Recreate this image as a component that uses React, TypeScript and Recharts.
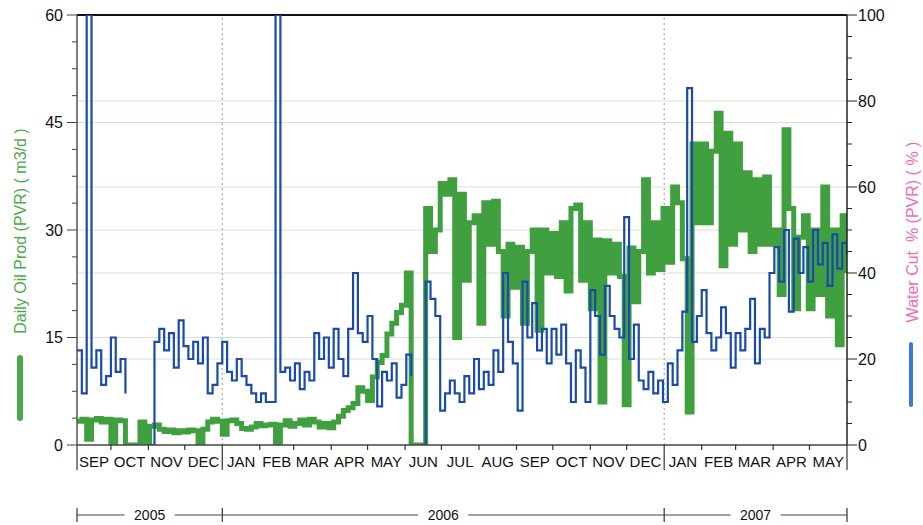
import React from 'react';
import { ComposedChart, Line, XAxis, YAxis, ReferenceLine } from 'recharts';

// day index counted from 1 Sep 2005, one reading every 4 days
const days = [
  2, 6, 10, 14, 18, 22, 26, 30, 34, 38, 42, 46, 50, 54, 58, 62, 66, 70, 74, 78,
  82, 86, 90, 94, 98, 102, 106, 110, 114, 118, 122, 126, 130, 134, 138, 142, 146, 150, 154, 158,
  162, 166, 170, 174, 178, 182, 186, 190, 194, 198, 202, 206, 210, 214, 218, 222, 226, 230, 234, 238,
  242, 246, 250, 254, 258, 262, 266, 270, 274, 278, 282, 286, 290, 294, 298, 302, 306, 310, 314, 318,
  322, 326, 330, 334, 338, 342, 346, 350, 354, 358, 362, 366, 370, 374, 378, 382, 386, 390, 394, 398,
  402, 406, 410, 414, 418, 422, 426, 430, 434, 438, 442, 446, 450, 454, 458, 462, 466, 470, 474, 478,
  482, 486, 490, 494, 498, 502, 506, 510, 514, 518, 522, 526, 530, 534, 538, 542, 546, 550, 554, 558,
  562, 566, 570, 574, 578, 582, 586, 590, 594, 598, 602, 606, 610, 614, 618, 622, 626, 630, 634, 638,
];

// Daily Oil Prod (PVR) m3/d
const oilProd = [
  3.3, 3.6, 0.8, 3.5, 3.7, 3.2, 3.6, 0.2, 3.5, 3.4,
  0, 0, 0, 3.2, 0.3, 2.6, 2.8, 2.2, 1.9, 2.1,
  1.7, 2.0, 1.8, 2.1, 2.0, 0.2, 2.2, 3.2, 3.6, 3.3,
  1.5, 3.4, 3.5, 3.0, 2.3, 2.2, 2.5, 3.0, 2.7, 2.8,
  2.9, 0.2, 2.8, 3.4, 2.6, 3.0, 3.5, 2.8, 3.6, 3.2,
  2.5, 3.0, 2.4, 3.2, 4.0, 4.8, 5.2, 5.8, 8.0, 7.5,
  6.2, 9.5, 11.5, 12.5, 15.5, 17, 18.5, 19.5, 24, 0,
  0, 0, 33, 27, 30, 36.5, 35, 37, 15, 35,
  23, 31, 32, 17, 33.8, 28, 34, 27, 18, 28,
  22, 27.6, 17, 27, 30, 16, 30, 24, 29.5, 23.5,
  31, 21.5, 33, 33.5, 23, 31, 19, 28.6, 6, 28.5,
  24, 28, 23.5, 5.6, 27.5, 20, 27, 37, 24, 31,
  24.5, 33, 25.5, 36, 33.8, 26, 4.6, 42, 31, 42,
  31, 41, 46.3, 25, 43.5, 28, 42, 30, 38, 27,
  37, 28, 37.4, 28, 30, 21, 44, 33, 19, 29,
  32, 19, 30, 21, 36, 18, 30, 14, 32, 24,
];

// Water Cut % (PVR)
const waterCut = [
  22, 12, 100, 18, 22, 14, 16, 25, 17, 20,
  12, null, null, null, null, 0, 24, 27, 22, 26,
  18, 29, 23, 20, 24, 19, 25, 12, 14, 19,
  24, 17, 15, 20, 16, 14, 12, 10, 12, 10,
  10, 100, 17, 18, 15, 19, 13, 17, 15, 26,
  20, 25, 18, 27, 20, 16, 27, 40, 26, 24,
  30, 20, 9, 17, 15, 19, 11, 14, 21, 16,
  null, 0, 38, 34, 30, 8, 12, 15, 12, 10,
  16, 12, 20, 13, 17, 14, 22, 17, 40, 24,
  19, 8, 38, 25, 33, 22, 27, 19, 27, 21,
  28, 19, 10, 22, 18, 10, 36, 30, 21, 37,
  30, 27, 25, 53, 20, 28, 15, 13, 17, 12,
  15, 10, 19, 14, 22, 31, 83, 24, 30, 36,
  26, 22, 25, 32, 26, 18, 26, 22, 27, 34,
  19, 27, 25, 40, 46, 38, 50, 31, 48, 40,
  46, 38, 50, 42, 47, 37, 49, 41, 47, 44,
];

const monthLabels = [
  'SEP', 'OCT', 'NOV', 'DEC', 'JAN', 'FEB', 'MAR', 'APR', 'MAY', 'JUN', 'JUL',
  'AUG', 'SEP', 'OCT', 'NOV', 'DEC', 'JAN', 'FEB', 'MAR', 'APR', 'MAY',
];
const monthStarts = [2, 30, 61, 91, 122, 153, 181, 212, 242, 273, 303, 334, 365, 395, 426, 456, 487, 518, 546, 577, 607, 638];
const yearLabels = ['2005', '2006', '2007'];
const yearStarts = [2, 122, 487, 638];

const oilTicks = [0, 3.75, 7.5, 11.25, 15, 18.75, 22.5, 26.25, 30, 33.75, 37.5, 41.25, 45, 48.75, 52.5, 56.25, 60];
const waterTicks = [0, 5, 10, 15, 20, 25, 30, 35, 40, 45, 50, 55, 60, 65, 70, 75, 80, 85, 90, 95, 100];

const rows = days.map((day, i) => ({ day, oil: oilProd[i], water: waterCut[i] }));

const monthMids = monthLabels.map((_, i) => (monthStarts[i] + monthStarts[i + 1]) / 2);
const monthTicks = [...monthStarts, ...monthMids].sort((a, b) => a - b);
const yearMids = yearLabels.map((_, i) => (yearStarts[i] + yearStarts[i + 1]) / 2);
const yearTicks = [...yearStarts, ...yearMids].sort((a, b) => a - b);

const FONT = '"Liberation Sans", Arial, sans-serif';
const GREEN = '#40a040';
const BLUE = '#1a4aaa';
const GRID = '#d3e3d3';

const LeftTick = (props: any) => {
  const { x, y, payload } = props;
  const major = payload.value % 15 === 0;
  return (
    <g>
      <line x1={x - (major ? 10 : 5)} x2={x} y1={y} y2={y} stroke="#444" />
      {major && (
        <text x={x - 14} y={y} dy="0.35em" textAnchor="end" fontSize={16} fontFamily={FONT} fill="#111">
          {payload.value}
        </text>
      )}
    </g>
  );
};

const RightTick = (props: any) => {
  const { x, y, payload } = props;
  const major = payload.value % 20 === 0;
  return (
    <g>
      <line x1={x} x2={x + (major ? 10 : 5)} y1={y} y2={y} stroke="#222" />
      {major && (
        <text x={x + 11} y={y} dy="0.35em" textAnchor="start" fontSize={16} fontFamily={FONT} fill="#111">
          {payload.value}
        </text>
      )}
    </g>
  );
};

const MonthTick = (props: any) => {
  const { x, y, payload } = props;
  const v = payload.value;
  if (monthStarts.includes(v)) {
    const long = yearStarts.includes(v);
    return <line x1={x} x2={x} y1={y} y2={y + (long ? 25 : 5)} stroke="#333" strokeWidth={1.2} />;
  }
  const label = monthLabels[monthMids.indexOf(v)];
  return (
    <text x={x} y={y + 17} dy="0.35em" textAnchor="middle" fontSize={15} fontFamily={FONT} fill="#111">
      {label}
    </text>
  );
};

const YearTick = (props: any) => {
  const { x, y, payload } = props;
  const v = payload.value;
  if (yearStarts.includes(v)) {
    return <line x1={x} x2={x} y1={y - 7} y2={y + 7} stroke="#333" strokeWidth={1.2} />;
  }
  const label = yearLabels[yearMids.indexOf(v)];
  return (
    <g>
      <rect x={x - 25} y={y - 6} width={50} height={12} fill="#fff" />
      <text x={x} y={y} dy="0.35em" textAnchor="middle" fontSize={14} fontFamily={FONT} fill="#111">
        {label}
      </text>
    </g>
  );
};

export default function App() {
  return (
    <div style={{ position: 'absolute', left: 0, top: 0, width: 923, height: 525, background: '#fff' }}>
      <ComposedChart width={923} height={525} data={rows} margin={{ top: 15, right: 0, bottom: 0, left: 0 }}>
        <XAxis
          dataKey="day"
          type="number"
          domain={[2, 638]}
          ticks={monthTicks}
          interval={0}
          height={70}
          tickSize={0}
          tickMargin={0}
          tickLine={false}
          axisLine={{ stroke: '#444', strokeWidth: 1.5 }}
          tick={(p: any) => <MonthTick {...p} />}
          allowDataOverflow
        />
        <XAxis
          xAxisId="year"
          dataKey="day"
          type="number"
          domain={[2, 638]}
          ticks={yearTicks}
          interval={0}
          height={10}
          tickSize={0}
          tickMargin={0}
          tickLine={false}
          axisLine={{ stroke: '#444' }}
          tick={(p: any) => <YearTick {...p} />}
          allowDataOverflow
        />
        <YAxis
          yAxisId="left"
          orientation="left"
          domain={[0, 60]}
          ticks={oilTicks}
          interval={0}
          width={77}
          tickSize={0}
          tickMargin={0}
          tickLine={false}
          axisLine={{ stroke: '#555', strokeWidth: 1.5 }}
          tick={(p: any) => <LeftTick {...p} />}
          allowDataOverflow
        />
        <YAxis
          yAxisId="right"
          orientation="right"
          domain={[0, 100]}
          ticks={waterTicks}
          interval={0}
          width={76}
          tickSize={0}
          tickMargin={0}
          tickLine={false}
          axisLine={{ stroke: '#222', strokeWidth: 1.5 }}
          tick={(p: any) => <RightTick {...p} />}
          allowDataOverflow
        />

        {/* light grid from both axes */}
        {[15, 30, 45].map((v) => (
          <ReferenceLine key={'l' + v} yAxisId="left" y={v} stroke={GRID} />
        ))}
        {[20, 40, 60, 80].map((v) => (
          <ReferenceLine key={'r' + v} yAxisId="right" y={v} stroke={GRID} />
        ))}
        {[122, 487].map((v) => (
          <ReferenceLine key={'x' + v} yAxisId="left" x={v} stroke="#999" strokeDasharray="2 3" />
        ))}
        <ReferenceLine yAxisId="left" y={60} stroke="#111" strokeWidth={2} />

        <Line
          yAxisId="left"
          dataKey="oil"
          type="stepAfter"
          stroke={GREEN}
          strokeWidth={5}
          dot={false}
          isAnimationActive={false}
        />
        <Line
          yAxisId="right"
          dataKey="water"
          type="stepAfter"
          stroke={BLUE}
          strokeWidth={2.2}
          dot={false}
          connectNulls={false}
          isAnimationActive={false}
        />
      </ComposedChart>

      <svg width={923} height={525} style={{ position: 'absolute', left: 0, top: 0, pointerEvents: 'none' }}>
        <text
          transform="translate(20,231) rotate(-90)"
          textAnchor="middle"
          dy="0.35em"
          fontSize={16}
          fontFamily={FONT}
          fill="#4aaa4a"
        >
          Daily Oil Prod (PVR) ( m3/d )
        </text>
        <line x1={20} x2={20} y1={358} y2={418} stroke="#4aaa4a" strokeWidth={6} strokeLinecap="round" />
        <text
          transform="translate(912,232) rotate(-90)"
          textAnchor="middle"
          dy="0.35em"
          fontSize={16}
          fontFamily={FONT}
          fill="#f06ab4"
          style={{ whiteSpace: 'pre' }}
        >
          {'Water Cut  % (PVR) ( % )'}
        </text>
        <line x1={911} x2={911} y1={344} y2={405} stroke="#3a7ad6" strokeWidth={4} strokeLinecap="round" />
      </svg>
    </div>
  );
}
